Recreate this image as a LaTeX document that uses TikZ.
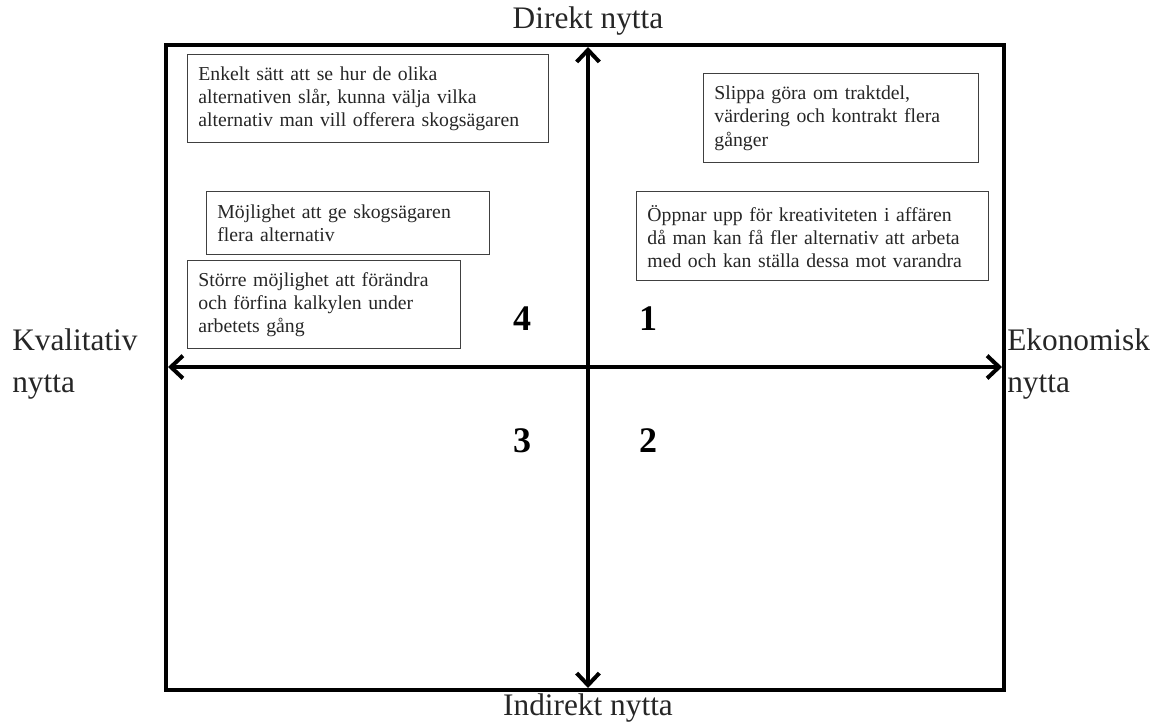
\documentclass[tikz,border=0pt]{standalone}
\usepackage{fontspec}
\setmainfont{Liberation Serif}
\usetikzlibrary{arrows.meta}
\begin{document}
\begin{tikzpicture}[x=0.75pt,y=-0.75pt,
  axislabel/.style={inner sep=0pt,font=\fontsize{23.5}{32}\selectfont,text=black!85},
  quadnum/.style={inner sep=0pt,font=\fontsize{27}{30}\selectfont\bfseries},
  notebox/.style={draw=black!75,line width=1.1pt,inner xsep=8pt,inner ysep=3pt,
    align=left,anchor=north west,font=\fontsize{14.8}{17.3}\selectfont,text=black!85},
  boxsize/.style 2 args={minimum width=#1*0.75pt,minimum height=#2*0.75pt,text width=#1*0.75pt-16pt},
  axis/.style={line width=3pt,{Straight Barb[length=9pt,width=17pt,line width=3pt]}-{Straight Barb[length=9pt,width=17pt,line width=3pt]}}]
\useasboundingbox (0,0) rectangle (1163,722);
% outer frame
\draw[line width=2.3pt] (166,45) rectangle (1004,690);
% axis end points
\coordinate (top) at (588,47);
\coordinate (bottom) at (588,688);
\coordinate (left) at (168,367);
\coordinate (right) at (1002,367);
\draw[axis] (bottom) -- (top);
\draw[axis] (left) -- (right);
% axis labels
\node[axislabel] (direkt) at (588,21) {Direkt nytta};
\node[axislabel] (indirekt) at (588,708) {Indirekt nytta};
\node[axislabel,align=left,anchor=west] (kval) at (12,364) {Kvalitativ\\nytta};
\node[axislabel,align=left,anchor=west] (ekon) at (1007,364) {Ekonomisk\\nytta};
% quadrant numbers
\node[quadnum] (q4) at (522,319) {4};
\node[quadnum] (q1) at (648,319) {1};
\node[quadnum] (q3) at (522,441) {3};
\node[quadnum] (q2) at (648,441) {2};
% notes
\node[notebox,boxsize={361}{88}] (enkelt) at (187,54)
  {Enkelt sätt att se hur de olika\\alternativen slår, kunna välja vilka\\alternativ man vill offerera skogsägaren};
\node[notebox,boxsize={283}{63}] (mojlighet) at (206,191)
  {Möjlighet att ge skogsägaren\\flera alternativ};
\node[notebox,boxsize={273}{88}] (storre) at (187,260)
  {Större möjlighet att förändra\\och förfina kalkylen under\\arbetets gång};
\node[notebox,boxsize={275}{89}] (slippa) at (703,73)
  {Slippa göra om traktdel,\\värdering och kontrakt flera\\gånger};
\node[notebox,boxsize={352}{89}] (oppnar) at (636,191)
  {Öppnar upp för kreativiteten i affären\\då man kan få fler alternativ att arbeta\\med och kan ställa dessa mot varandra};
\end{tikzpicture}
\end{document}
